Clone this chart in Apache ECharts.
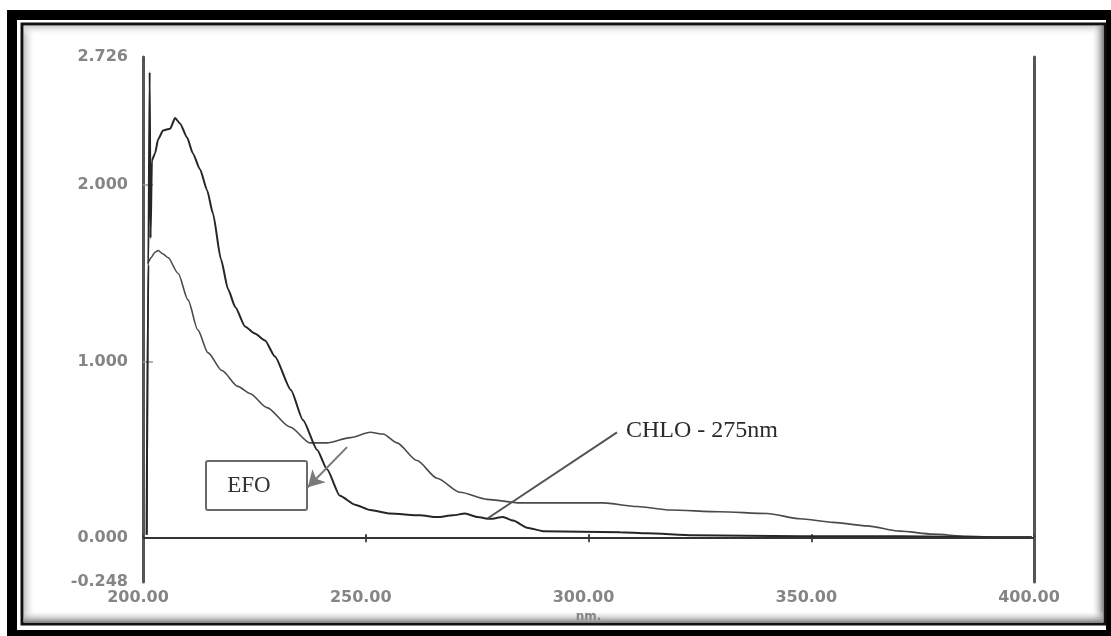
<!DOCTYPE html>
<html>
<head>
<meta charset="utf-8">
<script src="https://cdn.jsdelivr.net/npm/echarts@6/dist/echarts.min.js"></script>
<style>
html,body{margin:0;padding:0;background:#fff;}
#chart{width:1111px;height:636px;}
</style>
</head>
<body>
<div id="chart"></div>
<script>
// ---- data ----
const chloNm  = [200.8,201.2,201.5,201.7,202.0,202.7,203.4,204.5,206.1,207.2,208.3,209.9,211.2,212.8,214.4,215.7,217.5,219.1,220.7,222.9,225.1,227.4,229.6,233.2,235.9,239.1,241.3,244.2,247.6,251.0,255.4,262.2,266.0,269.6,272.3,275.0,277.9,280.8,283.1,286.2,289.8,307.1,313.1,323.5,347.5,369.9,392.4,399.5];
const chloAbs = [0.02,1.55,2.64,1.70,2.14,2.18,2.26,2.31,2.32,2.38,2.35,2.27,2.18,2.09,1.97,1.84,1.58,1.41,1.31,1.20,1.16,1.12,1.03,0.84,0.67,0.50,0.39,0.24,0.19,0.16,0.14,0.13,0.12,0.13,0.14,0.12,0.11,0.12,0.10,0.06,0.04,0.034,0.028,0.017,0.011,0.011,0.006,0.006];
const efoNm   = [200.9,201.1,201.8,202.7,203.4,204.5,205.6,207.9,210.1,212.3,214.6,217.7,221.3,224.0,227.8,233.0,237.5,241.3,246.5,251.0,253.9,257.0,261.5,266.0,271.2,277.2,284.6,292.0,303.3,310.9,318.3,329.5,340.1,347.5,354.9,362.5,369.9,377.3,385.0,392.4,399.5];
const efoAbs  = [0.02,1.56,1.59,1.62,1.63,1.61,1.59,1.50,1.35,1.18,1.05,0.95,0.86,0.82,0.74,0.63,0.54,0.54,0.57,0.60,0.59,0.54,0.44,0.34,0.26,0.22,0.20,0.20,0.20,0.18,0.16,0.15,0.14,0.11,0.09,0.07,0.04,0.023,0.011,0.006,0.006];
const yTickValues = [-0.248, 0, 1, 2, 2.726];
const xMin = 200, xMax = 400, xStep = 50;
const xName = 'nm.';
const chloLabel = 'CHLO - 275nm';
const efoLabel = 'EFO';
// pointer lines in data space
const chloPointer = [[306.4, 0.60], [277.4, 0.113]];
const efoPointer  = [[245.8, 0.516], [237.0, 0.289]];

const chloData = chloNm.map((x, i) => [x, chloAbs[i]]);
const efoData  = efoNm.map((x, i) => [x, efoAbs[i]]);

const chart = echarts.init(document.getElementById('chart'), null, {renderer: 'canvas'});
const labelFont = {fontFamily: 'DejaVu Sans', fontWeight: 'bold', fontSize: 16, color: '#858585'};

const option = {
  animation: false,
  backgroundColor: '#fff',
  grid: {left: 143, right: 77, top: 57, bottom: 54, containLabel: false},
  xAxis: [{
    type: 'value', min: xMin, max: xMax, interval: xStep, position: 'bottom',
    name: xName, nameLocation: 'middle', nameGap: 20,
    nameTextStyle: {fontFamily: 'DejaVu Sans', fontWeight: 'bold', fontSize: 12, color: '#858585'},
    axisLine: {show: true, lineStyle: {color: '#a8a8a8', width: 2}},
    axisTick: {show: true, inside: true, length: 4, lineStyle: {color: '#444', width: 2}},
    axisLabel: Object.assign({margin: 8, padding: [0, 10, 0, 0], formatter: v => v.toFixed(2)}, labelFont),
    splitLine: {show: false}
  }, {
    type: 'value', min: xMin, max: xMax, interval: xStep, position: 'top',
    axisLine: {show: true, lineStyle: {color: '#a8a8a8', width: 2}},
    axisTick: {show: true, inside: true, length: 4, lineStyle: {color: '#555', width: 2}},
    axisLabel: {show: false}, splitLine: {show: false}
  }],
  yAxis: [{
    type: 'value', min: -0.248, max: 2.726, position: 'left',
    axisLine: {show: true, lineStyle: {color: '#555', width: 3}},
    axisTick: {show: true, inside: true, length: 10, customValues: [1, 2], lineStyle: {color: '#999', width: 1.5}},
    axisLabel: Object.assign({margin: 15, customValues: yTickValues, formatter: v => v.toFixed(3)}, labelFont),
    splitLine: {show: false}
  }, {
    type: 'value', min: -0.248, max: 2.726, position: 'right',
    axisLine: {show: true, lineStyle: {color: '#555', width: 3}},
    axisTick: {show: false}, axisLabel: {show: false}, splitLine: {show: false}
  }],
  series: [{
    name: 'EFO', type: 'line', data: efoData, showSymbol: false, symbol: 'none',
    smooth: 0.25, smoothMonotone: 'x',
    lineStyle: {color: '#4a4a4a', width: 1.6}, z: 3,
    markLine: {
      silent: true, symbol: ['none', 'arrow'], symbolSize: [14, 16],
      label: {show: false},
      lineStyle: {color: '#7a7a7a', width: 2, type: 'solid'},
      data: [[{coord: efoPointer[0]}, {coord: efoPointer[1]}]]
    }
  }, {
    name: 'CHLO', type: 'line', data: chloData, showSymbol: false, symbol: 'none',
    smooth: 0.2, smoothMonotone: 'x',
    lineStyle: {color: '#262626', width: 2}, z: 4,
    markLine: {
      silent: true, symbol: ['none', 'none'],
      label: {show: false},
      lineStyle: {color: '#555', width: 2, type: 'solid'},
      data: [
        [{coord: chloPointer[0]}, {coord: chloPointer[1]}],
        [{coord: [xMin, 0], lineStyle: {color: '#333', width: 2}}, {coord: [xMax, 0]}]
      ]
    }
  }],
  graphic: [
    // outer black frame
    {type: 'rect', z: -20, silent: true, shape: {x: 7, y: 10, width: 1104, height: 626}, style: {fill: '#000'}},
    {type: 'rect', z: -19, silent: true, shape: {x: 17, y: 20, width: 1089, height: 610}, style: {fill: '#fff'}},
    // inner frame line
    {type: 'rect', z: -18, silent: true, shape: {x: 22, y: 24, width: 1083, height: 600}, style: {fill: '#fff', stroke: '#111', lineWidth: 3}},
    // inner shadow strips
    {type: 'rect', z: -17, silent: true, shape: {x: 24, y: 26, width: 12, height: 596},
      style: {fill: new echarts.graphic.LinearGradient(0, 0, 1, 0, [{offset: 0, color: '#c4c4c4'}, {offset: 1, color: 'rgba(255,255,255,0)'}])}},
    {type: 'rect', z: -17, silent: true, shape: {x: 24, y: 26, width: 1079, height: 10},
      style: {fill: new echarts.graphic.LinearGradient(0, 0, 0, 1, [{offset: 0, color: '#cfcfcf'}, {offset: 1, color: 'rgba(255,255,255,0)'}])}},
    {type: 'rect', z: -17, silent: true, shape: {x: 1091, y: 26, width: 12, height: 596},
      style: {fill: new echarts.graphic.LinearGradient(0, 0, 1, 0, [{offset: 0, color: 'rgba(255,255,255,0)'}, {offset: 1, color: '#8a8a8a'}])}},
    {type: 'rect', z: -17, silent: true, shape: {x: 24, y: 610, width: 1079, height: 12},
      style: {fill: new echarts.graphic.LinearGradient(0, 0, 0, 1, [{offset: 0, color: 'rgba(255,255,255,0)'}, {offset: 1, color: '#8a8a8a'}])}},
    // EFO label box
    {type: 'rect', z: 10, silent: true, shape: {x: 206, y: 461, width: 101, height: 49, r: 2},
      style: {fill: '#fff', stroke: '#6a6a6a', lineWidth: 2}},
    {type: 'text', z: 11, silent: true, style: {x: 249, y: 486, text: efoLabel, align: 'center', verticalAlign: 'middle',
      font: '23px "Liberation Serif"', fill: '#333'}},
    // CHLO label
    {type: 'text', z: 11, silent: true, style: {x: 626, y: 431, text: chloLabel, align: 'left', verticalAlign: 'middle',
      font: '24px "Liberation Serif"', fill: '#2a2a2a'}}
  ]
};
chart.setOption(option);
</script>
</body>
</html>
